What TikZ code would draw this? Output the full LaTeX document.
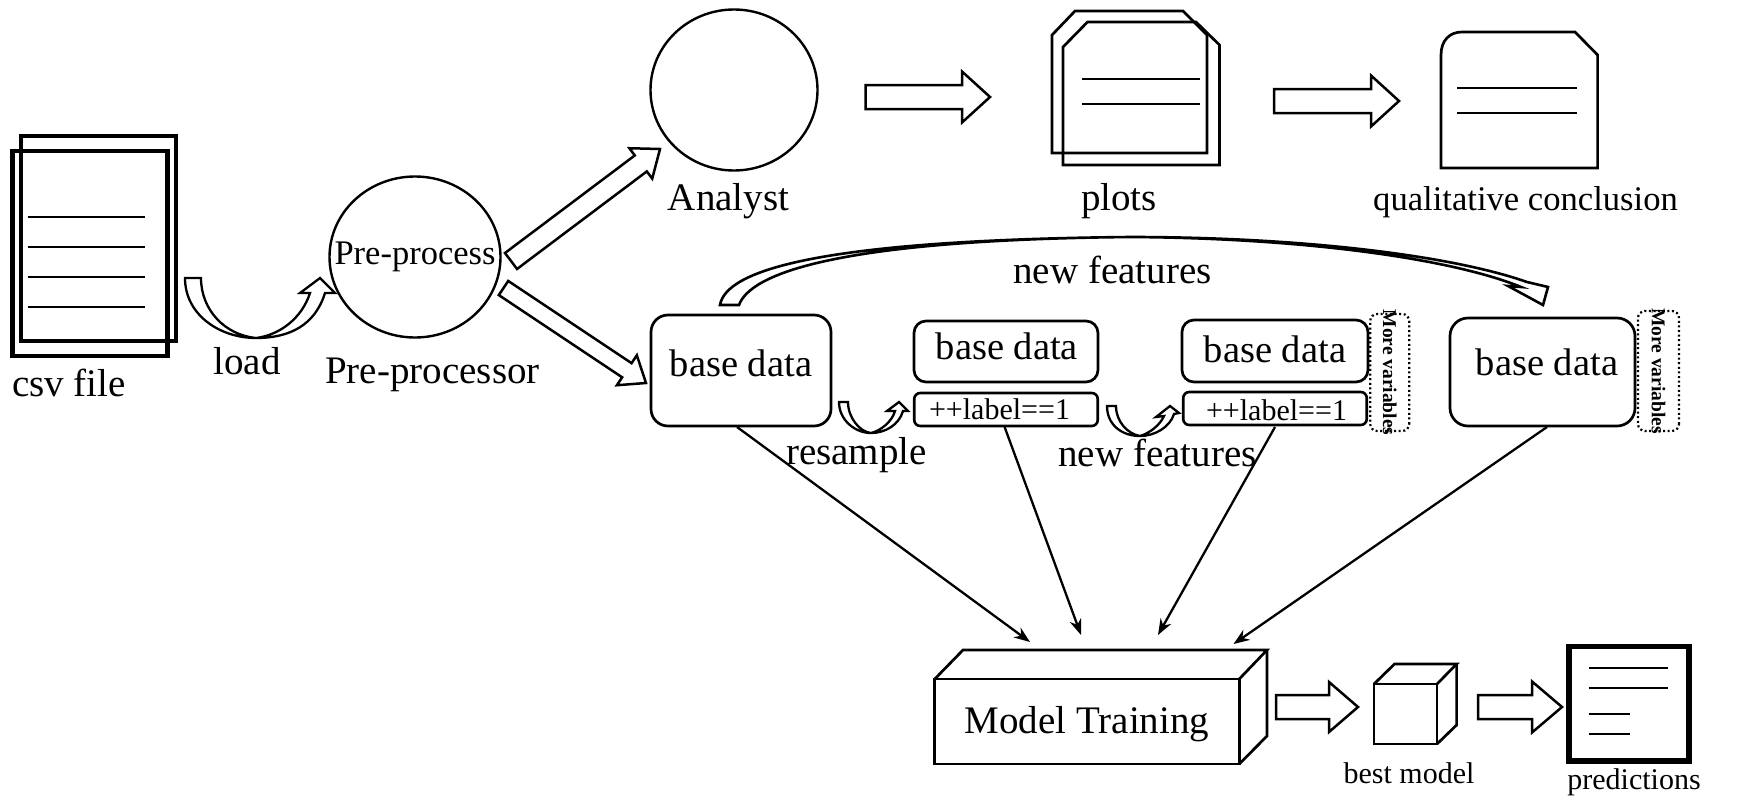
\documentclass[tikz,border=0pt]{standalone}
\usepackage{fontspec}
\setmainfont{Liberation Serif}
\usetikzlibrary{calc,arrows.meta,shapes.geometric}
\newcommand\fsz[1]{\fontsize{#1}{#1}\selectfont}
\newcommand\blockarrow[5]{%
  \coordinate (hb) at ($(#2)!#5!(#1)$);
  \draw[blockarr] ($(#1)!#3!90:(#2)$) -- ($(hb)!#3!90:(#2)$) -- ($(hb)!#4!90:(#2)$) -- (#2)
    -- ($(hb)!#4!-90:(#2)$) -- ($(hb)!#3!-90:(#2)$) -- ($(#1)!#3!-90:(#2)$) -- cycle;}
\tikzset{
  x=1pt,y=-1pt,
  blockarr/.style={draw=black,line width=2.5pt,fill=white,line join=miter},
  curvedarr/.style={draw=black,line width=2.3pt,fill=white,line join=miter},
  thinarr/.style={draw=black,line width=2.3pt,-{Stealth[length=16pt,width=12pt]}},
  txt/.style={anchor=base,inner sep=0pt,outer sep=0pt,font=\fsz{#1}},
  txt/.default=39,
  rowline/.style={draw=black,line width=1.8pt},
  page/.style={draw=black,line width=#1,fill=none,inner sep=0pt,outer sep=0pt},
  roundcirc/.style={ellipse,draw=black,line width=2.4pt,inner sep=0pt,outer sep=0pt},
  databox/.style={draw=black,line width=2.7pt,rounded corners=#1,inner sep=0pt,outer sep=0pt,font=\fsz{38.5}},
  labelbox/.style={draw=black,line width=2.6pt,rounded corners=6pt,inner sep=0pt,outer sep=0pt,font=\fsz{30},minimum width=183.5pt,minimum height=33pt},
  morebox/.style={draw=black,line width=2.2pt,dash pattern=on 2pt off 2.6pt,rounded corners=7pt,inner sep=0pt,outer sep=0pt,rotate=-90,font=\fsz{19.5}\bfseries},
  cubeedge/.style={draw=black,line width=2.7pt,line join=miter},
  doc/.style={draw=black,line width=2.7pt,line join=miter},
}
\begin{document}
\begin{tikzpicture}
\useasboundingbox (0,0) rectangle (1760,808);
% csv file
\node[page=4.4pt,minimum width=155pt,minimum height=205pt] (csvback) at (98.5,238.5) {};
\node[page=4.4pt,minimum width=155pt,minimum height=205pt] (csvfront) at (90,253.5) {};
\foreach \y/\n in {217/a,247/b,277/c,307/d}{
  \coordinate (csvl\n) at (27.5,\y); \coordinate (csvr\n) at (145,\y);
  \draw[rowline] (csvl\n) -- (csvr\n);}
\node[txt] (csvtxt) at (69,396.5) {csv file};
% load
\coordinate (loadS) at (185,278);
\coordinate (loadT) at (320,278);
\draw[curvedarr] (loadS) .. controls (185,315) and (220,338) .. (256,338)
  .. controls (290,338) and (315,325) .. (325,293) -- (335,293) -- (loadT) -- (300,293) -- (310,293)
  .. controls (302,318) and (280,335) .. (256,338)
  .. controls (225,335) and (201,310) .. (201,278) -- cycle;
\node[txt] (loadtxt) at (247,374.5) {load};
% pre-processor
\node[roundcirc,minimum width=171pt,minimum height=161pt,font=\fsz{34.5}] (pre) at (415,257) {\makebox[0pt]{Pre-process}};
\node[txt] (pretxt) at (432.5,383) {Pre-processor};
% block arrows from pre-processor
\coordinate (a1s) at (511,261); \coordinate (a1t) at (660,149);
\blockarrow{a1s}{a1t}{10pt}{19pt}{24pt}
\coordinate (a2s) at (503.5,288); \coordinate (a2t) at (646,383);
\blockarrow{a2s}{a2t}{8.5pt}{18pt}{23pt}
% analyst
\node[roundcirc,minimum width=167pt,minimum height=161pt] (analyst) at (734,90) {};
\node[txt] (analysttxt) at (728.5,210) {Analyst};
\coordinate (a3s) at (865.5,97); \coordinate (a3t) at (990,97);
\blockarrow{a3s}{a3t}{12pt}{25.5pt}{28pt}
% plots
\coordinate (pl1) at (1075,11);
\draw[doc] (pl1) -- (1183,11) -- (1207,35) -- (1207,153) -- (1052,153) -- (1052,35) -- cycle;
\coordinate (pl2) at (1087.5,22);
\draw[doc] (pl2) -- (1196,22) -- (1219.5,45) -- (1219.5,165) -- (1063,165) -- (1063,47) -- cycle;
\foreach \y/\n in {79/a,104/b}{
  \coordinate (pll\n) at (1082,\y); \coordinate (plr\n) at (1200,\y);
  \draw[rowline] (pll\n) -- (plr\n);}
\node[txt] (plotstxt) at (1119,210) {plots};
\coordinate (a4s) at (1274,101); \coordinate (a4t) at (1399,101);
\blockarrow{a4s}{a4t}{12pt}{25.5pt}{28pt}
% qualitative conclusion
\coordinate (qc) at (1462,32);
\draw[doc] (qc) -- (1575,32) -- (1597.6,55) -- (1597.6,168) -- (1441,168) -- (1441,55) .. controls (1441,40) and (1450,32) .. (qc) -- cycle;
\foreach \y/\n in {88/a,113/b}{
  \coordinate (qcl\n) at (1457,\y); \coordinate (qcr\n) at (1577,\y);
  \draw[rowline] (qcl\n) -- (qcr\n);}
\node[txt=34.6] (qctxt) at (1525.5,210) {qualitative conclusion};
% big curved arrow
\coordinate (nfS) at (720,305);
\coordinate (nfT) at (1543,305);
\draw[curvedarr,line width=2.6pt] (nfS) .. controls (726,270) and (820,240) .. (1130,237)
  .. controls (1300,237) and (1450,255) .. (1527,282) -- (1548,287) -- (nfT) -- (1508,286) -- (1521,287)
  .. controls (1450,258) and (1300,238) .. (1130,237)
  .. controls (830,240) and (750,275) .. (739,305) -- cycle;
\node[txt] (nftop) at (1112.5,283) {new features};
% base data boxes
\node[databox=17pt,minimum width=180pt,minimum height=111pt,text height=11pt,text depth=0pt] (bd1) at (741,370.5) {base data};
\node[databox=12pt,minimum width=184pt,minimum height=61pt,text height=15pt,text depth=0pt] (bd2) at (1006,351.5) {\kern2pt base data};
\node[labelbox,text height=19pt,text depth=0pt] (lab2) at (1006,409.5) {\kern-13pt ++label==1};
\node[databox=12pt,minimum width=186pt,minimum height=62pt,text height=22pt,text depth=0pt] (bd3) at (1275,351) {base data};
\node[labelbox,text height=23pt,text depth=0pt] (lab3) at (1275,408.5) {\kern3pt ++label==1};
\node[databox=18pt,minimum width=185pt,minimum height=108pt,text height=6pt,text depth=0pt] (bd4) at (1542.5,372) {\kern9pt base data};
\node[morebox,minimum width=117pt,minimum height=39pt] (more1) at (1389.7,372.5) {\makebox[0pt]{More variables}};
\node[morebox,minimum width=120pt,minimum height=41pt] (more2) at (1658.5,371) {\makebox[0pt]{More variables}};
% resample
\coordinate (rsS) at (839,402);
\coordinate (rsT) at (899,402);
\draw[curvedarr] (rsS) .. controls (839,420) and (855,433) .. (871,433)
  .. controls (885,433) and (899,425) .. (903,411) -- (908,411) -- (rsT) -- (887,411) -- (895,411)
  .. controls (892,422) and (880,431) .. (871,433)
  .. controls (860,432) and (848,418) .. (848,402) -- cycle;
\node[txt] (rstxt) at (856.5,464) {resample};
% new features small
\coordinate (fsS) at (1107,406);
\coordinate (fsT) at (1170,406);
\draw[curvedarr] (fsS) .. controls (1107,425) and (1122,436) .. (1140,436)
  .. controls (1155,436) and (1170,427) .. (1174,414) -- (1179,413) -- (fsT) -- (1156,417) -- (1164,416)
  .. controls (1160,425) and (1150,433) .. (1140,436)
  .. controls (1128,434) and (1116,422) .. (1116,406) -- cycle;
\node[txt] (nflow) at (1157.5,466) {new features};
% model training
\node[draw=black,line width=2.8pt,inner sep=0pt,outer sep=0pt,minimum width=304.5pt,minimum height=85pt,font=\fsz{39},text height=23pt,text depth=0pt] (mt) at (1087,721.5) {Model Training};
\coordinate (mtb1) at (963,650); \coordinate (mtb2) at (1267,650); \coordinate (mtb3) at (1267,736);
\draw[cubeedge] (mt.north west) -- (mtb1) -- (mtb2) -- (mt.north east);
\draw[cubeedge] (mtb2) -- (mtb3) -- (mt.south east);
% thin arrows
\coordinate (t1) at (1030,642); \coordinate (t2) at (1081,635); \coordinate (t3) at (1158,635); \coordinate (t4) at (1233.5,644);
\coordinate (s1) at (737,427); \coordinate (s2) at (1004.6,427); \coordinate (s3) at (1275,427); \coordinate (s4) at (1547,427);
\draw[thinarr] (s1) -- (t1);
\draw[thinarr] (s2) -- (t2);
\draw[thinarr] (s3) -- (t3);
\draw[thinarr] (s4) -- (t4);
% best model
\coordinate (a5s) at (1276,707); \coordinate (a5t) at (1358,707);
\blockarrow{a5s}{a5t}{12pt}{25pt}{29pt}
\node[draw=black,line width=2.7pt,inner sep=0pt,outer sep=0pt,minimum width=63pt,minimum height=60pt] (best) at (1405.5,714) {};
\coordinate (bmb1) at (1394.5,664); \coordinate (bmb2) at (1456.6,664); \coordinate (bmb3) at (1456.6,725);
\draw[cubeedge] (best.north west) -- (bmb1) -- (bmb2) -- (best.north east);
\draw[cubeedge] (bmb2) -- (bmb3) -- (best.south east);
\node[txt=30] (besttxt) at (1409,783) {best model};
\coordinate (a6s) at (1478,707); \coordinate (a6t) at (1562,707);
\blockarrow{a6s}{a6t}{12pt}{25.5pt}{30pt}
% predictions
\node[page=5.4pt,minimum width=120pt,minimum height=114.5pt] (pred) at (1629,703.7) {};
\foreach \y/\e/\n in {668/1668/a,688/1668/b,714/1630/c,734/1630/d}{
  \coordinate (prl\n) at (1588.5,\y); \coordinate (prr\n) at (\e,\y);
  \draw[rowline] (prl\n) -- (prr\n);}
\node[txt=30] (predtxt) at (1634,789) {predictions};
\end{tikzpicture}
\end{document}
